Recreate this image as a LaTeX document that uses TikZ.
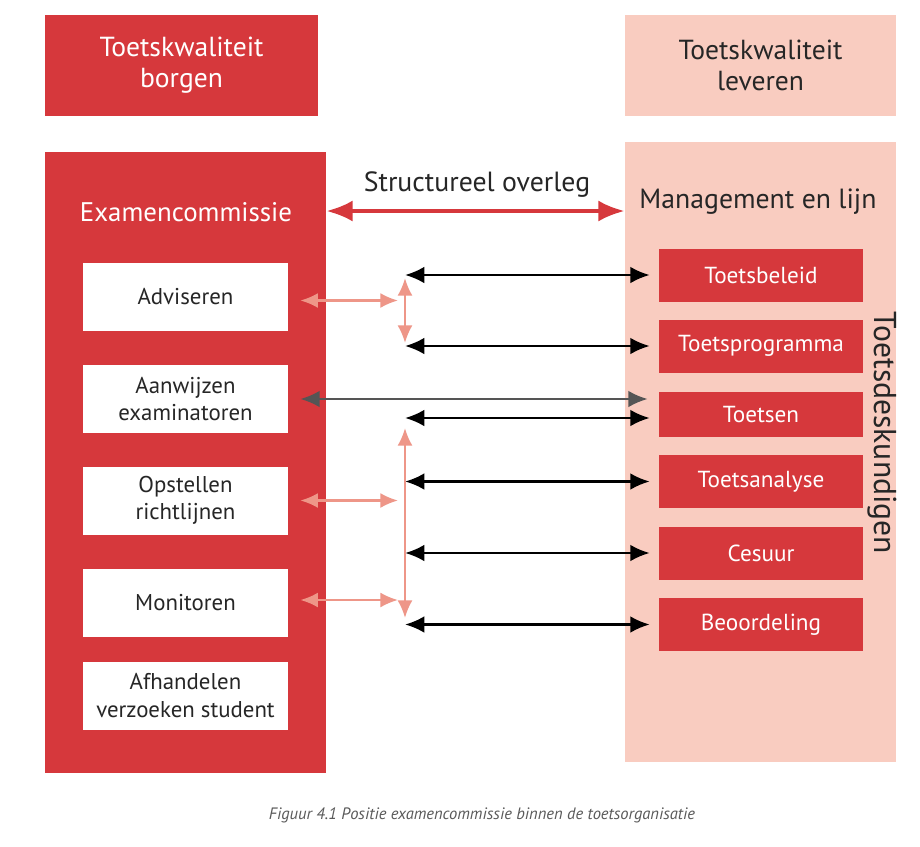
\documentclass[tikz,border=0pt]{standalone}
\usepackage{fontspec}
\setmainfont{PT Sans}
\usetikzlibrary{positioning,calc,arrows.meta}
\definecolor{borgred}{RGB}{214,56,60}
\definecolor{leverpink}{RGB}{249,204,192}
\definecolor{linkpink}{RGB}{238,150,136}
\definecolor{linkgray}{RGB}{85,85,85}
\definecolor{captiongray}{RGB}{90,90,90}
\tikzstyle{head_red} = [rectangle, fill=borgred, text=white, align=center, minimum width=5.46cm, minimum height=2.02cm, font=\fontsize{15.7}{17.5}\selectfont]
\tikzstyle{head_pink} = [rectangle, fill=leverpink, text=black!85, align=center, minimum width=5.42cm, minimum height=2.02cm, font=\fontsize{15.7}{17.5}\selectfont]
\tikzstyle{task} = [rectangle, fill=white, text=black!85, align=center, minimum width=4.1cm, minimum height=1.36cm, font=\fontsize{13}{15.5}\selectfont]
\tikzstyle{expert} = [rectangle, fill=borgred, text=white, align=center, minimum width=4.08cm, minimum height=1.06cm, font=\fontsize{13.2}{16}\selectfont]
\tikzstyle{title} = [text=black!85, font=\fontsize{15.8}{19}\selectfont]
\tikzstyle{line} = [draw, {Latex[length=11pt,width=9.5pt]}-{Latex[length=11pt,width=9.5pt]}, line width=1.4pt]
\tikzstyle{pinkline} = [draw=linkpink, {Latex[length=10pt,width=8.5pt]}-{Latex[length=10pt,width=8.5pt]}, line width=1.3pt, color=linkpink]

\begin{document}
\begin{tikzpicture}[x=0.02cm, y=-0.02cm]
\useasboundingbox (0,0) rectangle (920,846);
\fill[white] (0,0) rectangle (920,846);

% headers
\node [head_red] (borgen) at (181.5,65.5) {Toetskwaliteit\\borgen};
\node [head_pink] (leveren) at (760.5,65.5) {Toetskwaliteit\\leveren};

% columns
\node [rectangle, fill=borgred, minimum width=5.62cm, minimum height=12.42cm] (examen) at (185.5,462.5) {};
\node [rectangle, fill=leverpink, minimum width=5.42cm, minimum height=12.4cm] (lijn) at (760.5,452) {};
\node [text=white, font=\fontsize{15.3}{19}\selectfont] (examtitle) at (186,212) {Examencommissie};
\node [title] (lijntitle) at (758,202) {Management en lijn};
\node [title, rotate=-90, font=\fontsize{18}{21}\selectfont] (deskundig) at (882,433) {Toetsdeskundigen};

% tasks of the commission
\node [task] (adv) at (185.5,296.5) {Adviseren};
\node [task] (aanw) at (185.5,399) {Aanwijzen\\examinatoren};
\node [task] (opst) at (185.5,500.5) {Opstellen\\richtlijnen};
\node [task] (moni) at (185.5,603) {Monitoren};
\node [task] (afh) at (185.5,695.5) {Afhandelen\\verzoeken student};

% test experts
\node [expert] (beleid) at (761,275) {Toetsbeleid};
\node [expert] (programma) at (761,346) {Toetsprogramma};
\node [expert, minimum height=0.9cm] (toetsen) at (761,414.5) {Toetsen};
\node [expert] (analyse) at (761,481.5) {Toetsanalyse};
\node [expert] (cesuur) at (761,553) {Cesuur};
\node [expert] (beoord) at (761,624.5) {Beoordeling};

\node [text=captiongray, font=\fontsize{9.4}{11}\selectfont\itshape] (caption) at (482,815) {Figuur 4.1 Positie examencommissie binnen de toetsorganisatie};

% structural consultation
\node [title] (overleg) at (477,185) {Structureel overleg};
\draw [draw=borgred, line width=2.3pt, {Latex[length=15pt,width=12pt]}-{Latex[length=15pt,width=12pt]}] (examen.east |- 0,211) -- (lijn.west |- 0,211);

% hub points
\coordinate (hub) at (405,0);
\coordinate (hubtop) at (405,278);
\coordinate (hubmid) at (405,343);
\coordinate (hublow) at (405,428);
\coordinate (hubend) at (405,618);

\path [line, shorten >=0.18cm] (hub |- beleid.west) -- (beleid.west);
\path [line, shorten >=0.18cm] (hub |- programma.west) -- (programma.west);
\path [line, shorten >=0.18cm] ($(hub |- toetsen.west)+(0,3.5)$) -- ($(toetsen.west)+(0,3.5)$);
\path [line, shorten >=0.18cm] (hub |- analyse.west) -- (analyse.west);
\path [line, shorten >=0.18cm] (hub |- cesuur.west) -- (cesuur.west);
\path [line, shorten >=0.18cm] (hub |- beoord.west) -- (beoord.west);

\path [line, draw=linkgray, color=linkgray, shorten <=0.24cm, shorten >=0.22cm] (aanw.east) -- (aanw.east -| toetsen.west);

\path [pinkline] (hubtop) -- (hubmid);
\path [pinkline] (hublow) -- (hubend);
\path [pinkline, shorten <=0.24cm, shorten >=0.14cm] ($(adv.east)+(0,4)$) -- ($(hub |- adv.east)+(0,4)$);
\path [pinkline, shorten <=0.24cm, shorten >=0.14cm] (opst.east) -- (hub |- opst.east);
\path [pinkline, shorten <=0.24cm, shorten >=0.14cm] ($(moni.east)+(0,-3)$) -- ($(hub |- moni.east)+(0,-3)$);

\end{tikzpicture}
\end{document}
